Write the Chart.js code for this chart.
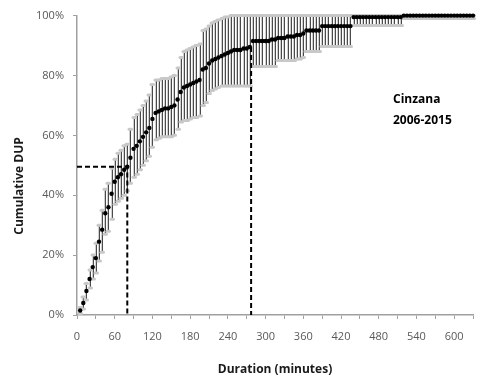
<!DOCTYPE html>
<html>
<head>
<meta charset="utf-8">
<script src="https://cdn.jsdelivr.net/npm/chart.js@4.4.1/dist/chart.umd.min.js"></script>
<style>
  html, body { margin: 0; padding: 0; background: #fff; }
  #wrap { width: 477px; height: 378px; position: relative; }
</style>
</head>
<body>
<div id="wrap"><canvas id="c" width="477" height="378"></canvas></div>
<script>
// Elapsed duration of each event (minutes)
const durationMin = [5,10,15,20,25,30,35,40,45,50,55,60,65,70,75,80,
  85,90,95,100,105,110,115,120,125,130,135,140,145,150,155,160,
  165,170,175,180,185,190,195,200,205,210,215,220,225,230,235,240,
  245,250,255,260,265,270,275,280,285,290,295,300,305,310,315,320,
  325,330,335,340,345,350,355,360,365,370,375,380,385,390,395,400,
  405,410,415,420,425,430,435,440,445,450,455,460,465,470,475,480,
  485,490,495,500,505,510,515,520,525,530,535,540,545,550,555,560,
  565,570,575,580,585,590,595,600,605,610,615,620,625,630];

// Cumulative DUP (%)
const cumulativePct = [1.5,4,8,12,16,19,24.5,28.5,34,36,40.5,44.5,46,47,48.5,49.5,
  52.5,55.5,56.5,58,59.5,61,62.5,65.5,67.5,68,68.5,69,69,69.5,70,72,
  74.5,76,76.5,77,77.5,78,78.5,82,82.5,84,85,85.5,86,86.5,87,87.5,
  88,88.5,88.5,88.5,89,89,89.5,91.5,91.5,91.5,91.5,91.5,91.5,92,92,92.5,
  92.5,92.5,93,93,93,93.5,93.5,94,95,95,95,95,95,96.5,96.5,96.5,
  96.5,96.5,96.5,96.5,96.5,96.5,96.5,99.5,99.5,99.5,99.5,99.5,99.5,99.5,99.5,99.5,
  99.5,99.5,99.5,99.5,99.5,99.5,99.5,100,100,100,100,100,100,100,100,100,
  100,100,100,100,100,100,100,100,100,100,100,100,100,100];

// Lower bound of the confidence interval (%)
const lowerPct = [0.5,2,5,9,12,14,18,21,27,28,32,37,38,39,40,41.5,
  44,46,47,48.5,50,51.5,53,56,58.5,59,59.5,59.5,59.5,59.5,60,62,
  64.5,65,65,65.5,66,66,66.5,70,71,74,75,75.5,76,76.5,76.5,76.5,
  76.5,76.5,76.5,76.5,76.5,76.5,76.5,83,83,83,83,83,83,83,83,85,
  85,85,85,85,85,85.5,85.5,86,88,88,88,88,88,89.7,89.7,89.7,
  89.7,89.7,89.7,89.7,89.7,89.7,89.7,96.7,96.7,96.7,96.7,96.7,96.7,96.7,96.7,96.7,
  96.7,96.7,96.7,96.7,96.7,96.7,96.7,99,99,99,99,99,99,99,99,99,
  99,99,99,99,99,99,99,99,99,99,99,99,99,99];

// Upper bound of the confidence interval (%)
const upperPct = [2.5,6,10.5,15,20,24,30,35,42,44,49,52,54,55,56.5,57,
  62,66,67,68.5,70,71.5,73.5,77,78.5,78.5,79,79,79,79.5,80,82.5,
  86,88,88.5,89,89.5,90,90.5,95,95.5,96.5,97.5,98,98.5,99,99.5,99.5,
  100,100,100,100,100,100,100,100,100,100,100,100,100,100,100,100,
  100,100,100,100,100,100,100,100,100,100,100,100,100,100,100,100,
  100,100,100,100,100,100,100,100,100,100,100,100,100,100,100,100,
  100,100,100,100,100,100,100,100,100,100,100,100,100,100,100,100,
  100,100,100,100,100,100,100,100,100,100,100,100,100,100];

// Reference markers: 50% duration and 90% duration
const medianMin = 80, medianPct = 49.5;
const p90Min = 277, p90Pct = 89.5;

const xTicks = [0,60,120,180,240,300,360,420,480,540,600];
const yTicks = [0,20,40,60,80,100];

const FONT = "'Open Sans', 'DejaVu Sans', sans-serif";

const points = durationMin.map((m, i) => ({ x: m, y: cumulativePct[i] }));

// Vertical confidence bars with light grey caps, drawn under the markers
const errorBars = {
  id: 'errorBars',
  beforeDatasetsDraw(chart) {
    const { ctx, scales: { x, y } } = chart;
    ctx.save();
    durationMin.forEach((m, i) => {
      const px = Math.round(x.getPixelForValue(m)) + 0.5;
      const yl = y.getPixelForValue(lowerPct[i]);
      const yu = y.getPixelForValue(upperPct[i]);
      ctx.lineCap = 'butt';
      ctx.lineWidth = 1;
      ctx.strokeStyle = '#cfcfcf';
      ctx.beginPath(); ctx.moveTo(px - 1, yl); ctx.lineTo(px - 1, yu); ctx.stroke();
      ctx.strokeStyle = '#4a4a4a';
      ctx.beginPath(); ctx.moveTo(px, yl); ctx.lineTo(px, yu); ctx.stroke();
      ctx.strokeStyle = '#c8c8c8';
      ctx.lineWidth = 3;
      ctx.lineCap = 'round';
      [yl, yu].forEach(py => {
        ctx.beginPath(); ctx.moveTo(px - 1.5, py); ctx.lineTo(px + 1, py); ctx.stroke();
      });
    });
    ctx.restore();
  }
};

// Axis titles and site annotation
const labels = {
  id: 'labels',
  afterDraw(chart) {
    const { ctx, chartArea } = chart;
    ctx.save();
    ctx.fillStyle = '#1a1a1a';
    ctx.font = 'bold 12px ' + FONT;
    ctx.textAlign = 'center';
    ctx.textBaseline = 'middle';
    ctx.fillText('Duration (minutes)', (chartArea.left + chartArea.right) / 2, 370);
    ctx.save();
    ctx.translate(20, 186);
    ctx.rotate(-Math.PI / 2);
    ctx.fillText('Cumulative DUP', 0, 0);
    ctx.restore();
    ctx.textAlign = 'left';
    ctx.fillStyle = '#000';
    ctx.fillText('Cinzana', 393, 100);
    ctx.fillText('2006-2015', 393, 121);
    ctx.restore();
  }
};

new Chart(document.getElementById('c'), {
  type: 'scatter',
  data: {
    datasets: [
      {
        label: 'DUP',
        data: points,
        backgroundColor: '#000',
        borderColor: '#000',
        pointRadius: 2.2,
        pointBorderWidth: 0,
        showLine: false,
        clip: false,
        order: 2
      },
      {
        label: '50%',
        data: [{ x: 0, y: medianPct }, { x: medianMin, y: medianPct }, { x: medianMin, y: 0 }],
        showLine: true,
        borderColor: '#000',
        borderWidth: 2,
        borderDash: [5, 3],
        pointRadius: 0,
        fill: false,
        clip: false,
        order: 1
      },
      {
        label: '90%',
        data: [{ x: p90Min, y: p90Pct }, { x: p90Min, y: 0 }],
        showLine: true,
        borderColor: '#000',
        borderWidth: 2,
        borderDash: [5, 3],
        pointRadius: 0,
        fill: false,
        clip: false,
        order: 1
      }
    ]
  },
  options: {
    responsive: false,
    animation: false,
    devicePixelRatio: 1,
    layout: { padding: { top: 13, right: 2, left: 0, bottom: 0 } },
    plugins: { legend: { display: false }, tooltip: { enabled: false } },
    scales: {
      x: {
        type: 'linear',
        min: 0,
        max: 630,
        afterFit(s) { s.height = 63; s.paddingLeft = 0; s.paddingRight = 0; },
        afterBuildTicks(s) {
          const t = [];
          for (const v of xTicks) { t.push({ value: v }); t.push({ value: v + 30 }); }
          s.ticks = t.filter(o => o.value <= 630);
        },
        ticks: {
          autoSkip: false,
          maxRotation: 0,
          padding: 11,
          color: '#595959',
          font: { family: FONT, size: 11 },
          callback: v => (xTicks.includes(v) ? String(v) : '')
        },
        grid: { drawOnChartArea: false, drawTicks: true, tickLength: 4, color: '#a0a0a0', tickColor: '#a0a0a0', lineWidth: 1 },
        border: { color: '#a0a0a0', width: 1.5 }
      },
      y: {
        min: 0,
        max: 100,
        afterFit(s) { s.width = 77; },
        afterBuildTicks(s) { s.ticks = yTicks.map(v => ({ value: v })); },
        ticks: {
          padding: 9,
          color: '#595959',
          font: { family: FONT, size: 11 },
          callback: v => v + '%'
        },
        grid: { drawOnChartArea: false, drawTicks: true, tickLength: 4, color: '#a0a0a0', tickColor: '#a0a0a0', lineWidth: 1 },
        border: { color: '#a0a0a0', width: 1.5 }
      }
    }
  },
  plugins: [errorBars, labels]
});
</script>
</body>
</html>
